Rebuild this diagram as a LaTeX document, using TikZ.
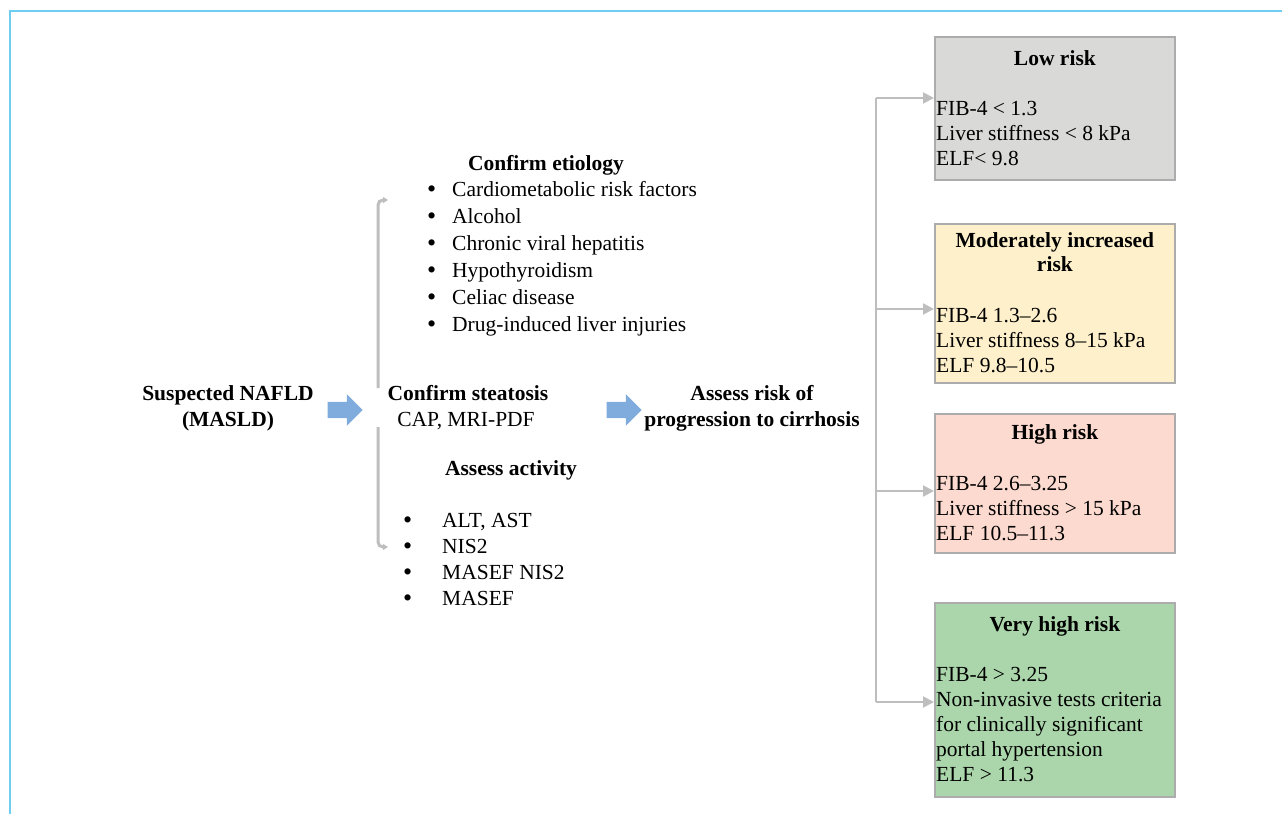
\documentclass[tikz,border=0pt]{standalone}
\usepackage{fontspec}
\setmainfont{Liberation Serif}
\usetikzlibrary{positioning,calc,arrows.meta,shapes.arrows}

\definecolor{frameblue}{RGB}{110,205,240}
\definecolor{flowblue}{RGB}{128,172,221}
\definecolor{linegray}{RGB}{190,190,190}
\definecolor{boxgray}{RGB}{172,172,172}
\definecolor{lowfill}{RGB}{217,218,216}
\definecolor{modfill}{RGB}{254,240,203}
\definecolor{highfill}{RGB}{252,218,207}
\definecolor{vhighfill}{RGB}{171,214,171}

\newcommand{\bul}[1]{\makebox[#1pt][l]{\raisebox{-1.5pt}{\fontsize{26}{26}\selectfont\textbullet}}}

\begin{document}
\begin{tikzpicture}[x=1pt, y=-1pt, font=\fontsize{21.5}{27}\selectfont,
  blockarrow/.style={single arrow, fill=flowblue, inner xsep=0, inner ysep=8, minimum height=35, single arrow head extend=7.5},
  riskbox/.style={draw=boxgray, line width=1.8, minimum width=240, anchor=north west, inner sep=0},
  boldtext/.style={anchor=base, align=center, font=\fontsize{21.5}{26}\selectfont\bfseries},
  boxtext/.style={font=\fontsize{21.5}{25}\selectfont, align=left, anchor=base west, inner sep=0},
  bracket/.style={draw=linegray, line width=3, rounded corners=5, -{Triangle[length=5,width=6]}},
  riskline/.style={draw=linegray, line width=2},
  riskarrow/.style={riskline, -{Triangle[length=11,width=11]}}]
\useasboundingbox (0,0) rectangle (1282,814);

% frame
\draw[frameblue, line width=2] (9,11) -- (1282,11) (10,11) -- (10,814);

% left part (base of a multi-line node = its last line)
\node (susp) [boldtext] at (228,426) {Suspected NAFLD\\(MASLD)};
\node (arr1) [blockarrow] at (341,410) {};
\node (steat) [boldtext] at (468,400) {Confirm steatosis};
\node (cap) [anchor=base] at (466,426) {CAP, MRI-PDF};
\node (arr2) [blockarrow] at (620,410) {};
\node (assess) [boldtext] at (752,426) {Assess risk of\\progression to cirrhosis};

% etiology and activity
\node (etiol) [boldtext] at (546,170) {Confirm etiology};
\node (etlist) [align=left, anchor=base west, inner sep=0] at (427,331) {\bul{25}Cardiometabolic risk factors\\\bul{25}Alcohol\\\bul{25}Chronic viral hepatitis\\\bul{25}Hypothyroidism\\\bul{25}Celiac disease\\\bul{25}Drug-induced liver injuries};
\node (activ) [boldtext] at (511,475) {Assess activity};
\node (aclist) [align=left, anchor=base west, inner sep=0, font=\fontsize{21.5}{26}\selectfont] at (403,605) {\bul{39}ALT, AST\\\bul{39}NIS2\\\bul{39}MASEF NIS2\\\bul{39}MASEF};

\coordinate (brup) at (378,388);
\coordinate (brdn) at (378,427);
\coordinate (ettip) at (388,200);
\coordinate (actip) at (388,547);
\draw[bracket] (brup) |- (ettip);
\draw[bracket] (brdn) |- (actip);

% risk boxes
\node (low) [riskbox, fill=lowfill, minimum height=143] at (934,36) {};
\node (lowt) [boldtext] at ($(low.north)+(0,29)$) {Low risk};
\node (lowb) [boxtext] at ($(low.north west)+(2,129)$) {FIB-4 < 1.3\\Liver stiffness < 8 kPa\\ELF< 9.8};

\node (mod) [riskbox, fill=modfill, minimum height=159] at (934,223) {};
\node (modt) [boldtext, font=\fontsize{21.5}{24}\selectfont\bfseries] at ($(mod.north)+(0,48)$) {Moderately increased\\risk};
\node (modb) [boxtext] at ($(mod.north west)+(2,149)$) {FIB-4 1.3–2.6\\Liver stiffness 8–15 kPa\\ELF 9.8–10.5};

\node (high) [riskbox, fill=highfill, minimum height=139] at (934,413) {};
\node (hight) [boldtext] at ($(high.north)+(0,26)$) {High risk};
\node (highb) [boxtext] at ($(high.north west)+(2,127)$) {FIB-4 2.6–3.25\\Liver stiffness > 15 kPa\\ELF 10.5–11.3};

\node (vhigh) [riskbox, fill=vhighfill, minimum height=194] at (934,602) {};
\node (vhight) [boldtext] at ($(vhigh.north)+(0,29)$) {Very high risk};
\node (vhighb) [boxtext] at ($(vhigh.north west)+(2,179)$) {FIB-4 > 3.25\\Non-invasive tests criteria\\for clinically significant\\portal hypertension\\ELF > 11.3};

% connectors to the boxes
\coordinate (b1) at (876,98);
\coordinate (b2) at (876,309);
\coordinate (b3) at (876,491);
\coordinate (b4) at (876,702);
\draw[riskline] (b1) -- (b4);
\draw[riskarrow] (b1) -- (b1 -| low.west);
\draw[riskarrow] (b2) -- (b2 -| mod.west);
\draw[riskarrow] (b3) -- (b3 -| high.west);
\draw[riskarrow] (b4) -- (b4 -| vhigh.west);
\end{tikzpicture}
\end{document}
